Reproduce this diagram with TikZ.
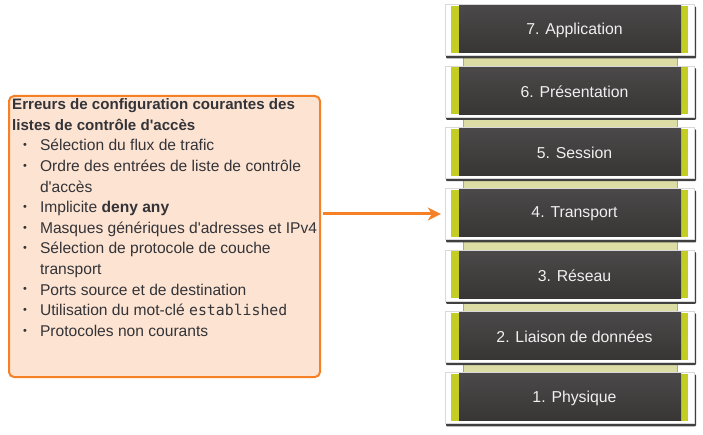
\documentclass[tikz,border=0pt]{standalone}
\usepackage{fontspec}
\setmainfont{Liberation Sans}
\setmonofont[Scale=0.95]{DejaVu Sans Mono}
\usetikzlibrary{arrows.meta}
\definecolor{txtgray}{RGB}{51,51,56}
\definecolor{peach}{RGB}{253,228,210}
\definecolor{orng}{RGB}{245,128,37}
\definecolor{lime}{RGB}{196,205,36}
\definecolor{darktop}{RGB}{74,72,72}
\definecolor{darkbot}{RGB}{56,53,53}
\definecolor{strip}{RGB}{220,220,165}
\newcommand{\apos}{\textquotesingle}
\newcommand{\smbul}{\raisebox{0.25ex}{\scalebox{0.7}{\textbullet}}}
\tikzset{
  layerframe/.style={fill=white, draw=black!15, line width=0.4pt, minimum width=249pt, minimum height=51pt, inner sep=0pt},
  layertext/.style={text=white!94!black, font=\fontsize{15.8}{18}\selectfont},
  framebox/.style={fill=peach, draw=orng, line width=2pt, rounded corners=5pt},
  bigarrow/.style={draw=orng, line width=3pt, -{Stealth[length=13pt,width=13pt,inset=4pt]}}
}
\begin{document}
\begin{tikzpicture}[x=1pt,y=-1pt]
\useasboundingbox (0,0) rectangle (703,435);
% connector strips between layers
\foreach \k in {0,...,5}{
  \pgfmathsetmacro{\yc}{29.5+61.33*\k}
  \fill[strip, draw=black!35, line width=0.4pt] (463,\yc+24) rectangle (677,\yc+38);
}
% layers
\foreach \n/\t [count=\k from 0] in {7/7. Application,6/6. Présentation,5/5. Session,4/4. Transport,3/3. Réseau,2/2. Liaison de données,1/1. Physique}{
  \pgfmathsetmacro{\yc}{29.5+61.33*\k}
  \fill[black!75, rounded corners=1pt] (446,\yc-23) rectangle (696,\yc+29);
  \node[layerframe] (B\n) at (569.5,\yc+0.5) {};
  \fill[lime] (451,\yc-23.5) rectangle (688,\yc+23.5);
  \shade[top color=darktop, bottom color=darkbot] (459,\yc-23.5) rectangle (681,\yc+23.5);
  \node[layertext] (L\n) at (574.5,\yc+0.5) {\t};
}
% left frame
\draw[framebox] (9,96) rectangle (320,377);
\node[anchor=north west, inner sep=0pt, text=txtgray, font=\fontsize{15.6}{20.6}\selectfont] (list) at (12,95) {%
\renewcommand\arraystretch{1}%
\begin{tabular}{@{\hspace{11pt}}c@{\hspace{13pt}}l@{}}
\multicolumn{2}{@{}l@{}}{\fontsize{15.1}{20.6}\selectfont\textbf{Erreurs de configuration courantes des}}\\
\multicolumn{2}{@{}l@{}}{\fontsize{15.1}{20.6}\selectfont\textbf{listes de contrôle d\apos accès}}\\
\smbul & Sélection du flux de trafic\\
\smbul & Ordre des entrées de liste de contrôle\\
 & d\apos accès\\
\smbul & Implicite \textbf{deny any}\\
\smbul & Masques génériques d\apos adresses et IPv4\\
\smbul & Sélection de protocole de couche\\
 & transport\\
\smbul & Ports source et de destination\\
\smbul & Utilisation du mot-clé \texttt{established}\\
\smbul & Protocoles non courants
\end{tabular}};
\coordinate (start) at (320,0 |- B4.west);
\draw[bigarrow] ([xshift=3pt]start) -- ([xshift=-4pt]B4.west);
\end{tikzpicture}
\end{document}
